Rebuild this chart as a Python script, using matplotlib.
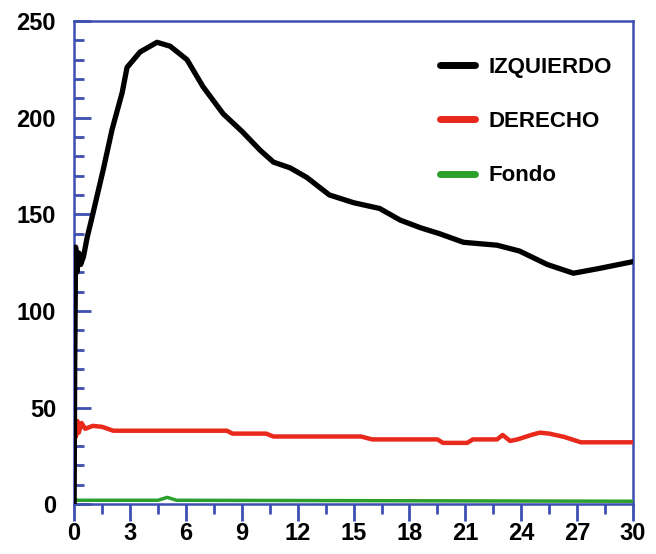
import matplotlib.pyplot as plt
from matplotlib.ticker import MultipleLocator

plt.rcParams['font.family'] = ['Liberation Sans', 'DejaVu Sans']

# IZQUIERDO (black)
izq_x = [0.0, 0.03, 0.08, 0.15, 0.25, 0.35, 0.5, 0.7, 1.0, 1.56, 2.04, 2.58, 2.84,
         3.54, 4.45, 5.15, 6.06, 6.92, 8.0, 9.0, 10.0, 10.7, 11.6, 12.5, 13.7,
         15.0, 16.4, 17.5, 18.6, 19.6, 20.9, 22.7, 23.9, 25.4, 26.8, 28.2, 30.0]
izq_y = [0, 70, 133, 120, 130, 124, 128, 138, 150, 173, 194, 213, 226,
         234, 239, 237, 230, 216, 202, 193, 183, 177, 174, 169, 160,
         156, 153, 147, 143, 140, 135.5, 134, 131, 124, 119.5, 122, 125.5]

# DERECHO (red)
der_x = [0.0, 0.03, 0.1, 0.18, 0.25, 0.4, 0.6, 1.0, 1.5, 2.1, 8.2, 8.5, 10.3, 10.7,
         15.4, 16.0, 19.5, 19.8, 21.1, 21.4, 22.7, 23.0, 23.4, 23.8, 24.6, 25.0,
         25.5, 26.3, 27.2, 30.0]
der_y = [14, 44, 35, 43, 37, 42, 39, 40.5, 40, 38, 38, 36.5, 36.5, 35,
         35, 33.5, 33.5, 31.7, 31.7, 33.5, 33.5, 35.8, 32.7, 33.5, 36, 37,
         36.5, 34.8, 32, 32]

# Fondo (green)
fondo_x = [0.0, 0.2, 4.5, 5.0, 5.5, 30.0]
fondo_y = [2.5, 2, 2, 3.5, 2, 1.5]

spine_blue = '#3d4fb0'

fig = plt.figure(figsize=(6.56, 5.54), dpi=100)
ax = fig.add_axes([0.113, 0.090, 0.852, 0.872])

ax.plot(fondo_x, fondo_y, '-', color='#2ca02c', lw=2.5, label='Fondo', zorder=3)
ax.plot(der_x, der_y, '-', color='#e8291c', lw=3.2, label='DERECHO', zorder=4,
        solid_joinstyle='round')
ax.plot(izq_x, izq_y, '-', color='black', lw=3.8, label='IZQUIERDO', zorder=5,
        solid_joinstyle='round')

ax.set_xlim(0, 30)
ax.set_ylim(0, 250)

ax.xaxis.set_major_locator(MultipleLocator(3))
ax.xaxis.set_minor_locator(MultipleLocator(1.5))
ax.yaxis.set_major_locator(MultipleLocator(50))
ax.yaxis.set_minor_locator(MultipleLocator(10))

for s in ax.spines.values():
    s.set_color(spine_blue)
    s.set_linewidth(1.8)

ax.tick_params(axis='x', which='major', direction='out', length=12, width=2,
               color=spine_blue, labelsize=17, pad=1)
ax.tick_params(axis='x', which='minor', direction='out', length=7, width=2,
               color=spine_blue)
ax.tick_params(axis='y', which='major', direction='in', length=12, width=2,
               color=spine_blue, labelsize=17, pad=13)
ax.tick_params(axis='y', which='minor', direction='in', length=7, width=2,
               color=spine_blue)
for lbl in ax.get_xticklabels() + ax.get_yticklabels():
    lbl.set_fontweight('bold')

# legend: reversed order, no frame, placed in upper right
handles, labels = ax.get_legend_handles_labels()
leg = ax.legend(handles[::-1], labels[::-1], loc='upper right', frameon=False,
                bbox_to_anchor=(0.9785, 0.9447), borderaxespad=0,
                prop={'weight': 'bold', 'size': 16}, handlelength=1.6,
                labelspacing=1.5, handletextpad=0.6)
for h in leg.get_lines():
    h.set_linewidth(5)
    h.set_solid_capstyle('round')

plt.savefig('out.png', dpi=100)
